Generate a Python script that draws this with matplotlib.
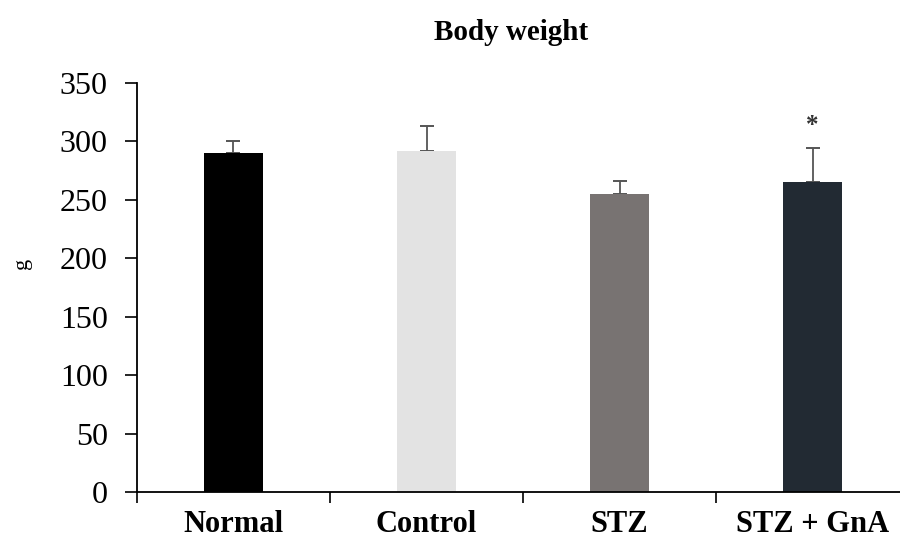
import matplotlib
matplotlib.use("Agg")
import matplotlib.pyplot as plt
import numpy as np

# Data
groups = ["Normal", "Control", "STZ", "STZ + GnA"]
weights = [290, 292, 255, 265]
sem = [10, 21, 11, 29]
colors = ["#000000", "#e3e3e3", "#787372", "#222a33"]
star_group = 3
star_y = 313

plt.rcParams['font.family'] = ['Liberation Serif', 'DejaVu Serif']

fig = plt.figure(figsize=(9, 5.4), dpi=100)
ax = fig.add_axes([0.1522, 0.0883, 0.8478, 0.7586])

x = np.arange(len(groups))
ax.bar(x, weights, width=0.305, color=colors, zorder=2)
# only upper error bars
ax.errorbar(x, weights, yerr=[np.zeros(len(sem)), sem], fmt="none",
            ecolor="#555555", elinewidth=1.3, capsize=5, capthick=1.4, zorder=1)

ax.text(star_group, star_y, "*", ha="center", va="center", fontsize=18,
        fontweight="bold", color="#333333")

ax.set_xlim(-0.5, 3.453)
ax.set_ylim(0, 350)
ax.set_yticks(range(0, 351, 50))
ax.tick_params(axis="y", labelsize=23, length=9, width=1.2, pad=12, direction="out")

# category boundaries carry the ticks, labels sit in the middle
ax.set_xticks(np.arange(-0.5, 3.5, 1.0))
ax.set_xticklabels([])
ax.set_xticks(x, minor=True)
ax.set_xticklabels(groups, minor=True, fontsize=22, fontweight="bold")
ax.tick_params(axis="x", which="major", length=8, width=1.2, direction="out")
ax.tick_params(axis="x", which="minor", length=0, pad=13)

for side in ["top", "right"]:
    ax.spines[side].set_visible(False)
for side in ["left", "bottom"]:
    ax.spines[side].set_linewidth(1.3)

fig.text(0.025, 0.513, "g", rotation=90, ha="center", va="center", fontsize=16)
fig.text(0.568, 0.94, "Body weight", ha="center", va="center",
         fontsize=21, fontweight="bold")

fig.savefig("out.png", dpi=100)
